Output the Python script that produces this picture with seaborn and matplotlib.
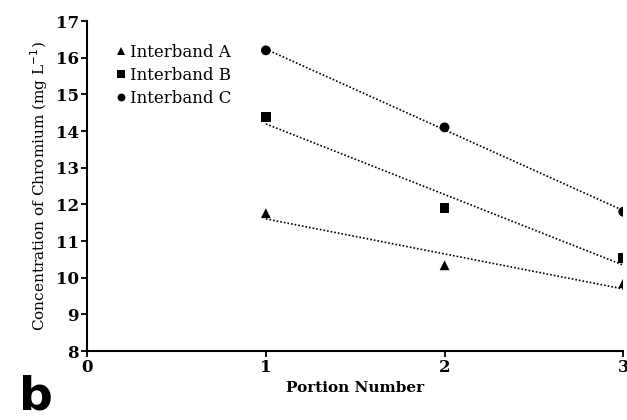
import numpy as np
import pandas as pd
import matplotlib.pyplot as plt
import seaborn as sns

portions = [1, 2, 3]
interband_a = [11.76, 10.34, 9.85]
interband_b = [14.38, 11.90, 10.53]
interband_c = [16.20, 14.10, 11.80]
series_names = ["Interband A", "Interband B", "Interband C"]

data = pd.DataFrame({
    "Portion": portions * 3,
    "Chromium": interband_a + interband_b + interband_c,
    "Series": [n for n in series_names for _ in portions],
})

sns.set_style("ticks")
plt.rcParams["font.family"] = ["DejaVu Serif"]
plt.rcParams["text.color"] = "black"
plt.rcParams["axes.labelcolor"] = "black"
plt.rcParams["xtick.color"] = "black"
plt.rcParams["ytick.color"] = "black"
plt.rcParams["axes.edgecolor"] = "black"

fig = plt.figure(figsize=(6.27, 4.2), dpi=100)
ax = fig.add_axes([0.139, 0.164, 0.855, 0.786])

markers = {"Interband A": "^", "Interband B": "s", "Interband C": "o"}
sns.scatterplot(data=data, x="Portion", y="Chromium", style="Series", markers=markers,
                color="black", s=50, edgecolor="black", linewidth=0, ax=ax, zorder=3)

# linear trendlines
for name in series_names:
    sub = data[data["Series"] == name]
    k, b = np.polyfit(sub["Portion"], sub["Chromium"], 1)
    xs = np.array([1, 3])
    ax.plot(xs, k * xs + b, linestyle=(0, (1, 1.2)), color="black", linewidth=1.2, zorder=2)

ax.set_xlim(0, 3)
ax.set_ylim(8, 17)
ax.set_xticks([0, 1, 2, 3])
ax.set_yticks(range(8, 18))
ax.spines["top"].set_visible(False)
ax.spines["right"].set_visible(False)
ax.spines["left"].set_linewidth(1.5)
ax.spines["bottom"].set_linewidth(1.5)
ax.tick_params(axis="both", labelsize=12, width=1.3, length=4, direction="out", pad=2)
for lbl in ax.get_xticklabels() + ax.get_yticklabels():
    lbl.set_fontweight("bold")
ax.set_xlabel("Portion Number", fontsize=11, fontweight="bold", labelpad=3)
ax.set_ylabel("Concentration of Chromium (mg L$^{-1}$)", fontsize=11, labelpad=4)

leg = ax.legend(loc="upper left", bbox_to_anchor=(0.02, 0.975), frameon=False, fontsize=12,
                handletextpad=0.0, labelspacing=0.35, markerscale=0.8, handlelength=1.0)

fig.text(0.03, 0.0, "b", fontsize=34, fontweight="bold", family="DejaVu Sans", va="bottom")

plt.savefig("out.png", dpi=100)
